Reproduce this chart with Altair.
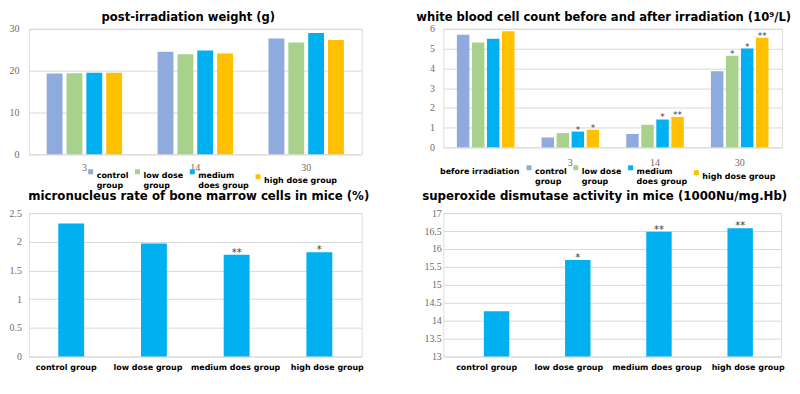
import altair as alt
import pandas as pd

# ---------------- data ----------------
groups = ["control group", "low dose group", "medium does group", "high dose group"]
group_colors = ["#8FAADC", "#A9D18E", "#00B0F0", "#FFC000"]

weight_days = ["3", "14", "30"]
weight_control = [19.3, 24.5, 27.7]
weight_low = [19.4, 23.9, 26.7]
weight_medium = [19.5, 24.8, 29.0]
weight_high = [19.5, 24.1, 27.3]

wbc_times = ["before irradiation", "3", "14", "30"]
wbc_control = [5.70, 0.50, 0.68, 3.85]
wbc_low = [5.31, 0.72, 1.14, 4.64]
wbc_medium = [5.50, 0.80, 1.41, 5.00]
wbc_high = [5.88, 0.89, 1.54, 5.55]
wbc_sig_control = ["", "", "", ""]
wbc_sig_low = ["", "", "", "*"]
wbc_sig_medium = ["", "*", "*", "*"]
wbc_sig_high = ["", "*", "**", "**"]

mn_values = [2.32, 1.97, 1.775, 1.82]
mn_sig = ["", "", "**", "*"]

sod_values = [14.26, 15.69, 16.48, 16.58]
sod_sig = ["", "*", "**", "**"]

# ---------------- tables ----------------
rows = []
for g, vals in zip(groups, [weight_control, weight_low, weight_medium, weight_high]):
    for d, v in zip(weight_days, vals):
        rows.append({"cat": d, "group": g, "value": v})
df_w = pd.DataFrame(rows)

rows = []
for g, vals, sig in zip(groups, [wbc_control, wbc_low, wbc_medium, wbc_high],
                        [wbc_sig_control, wbc_sig_low, wbc_sig_medium, wbc_sig_high]):
    for t, v, s in zip(wbc_times, vals, sig):
        rows.append({"cat": t, "group": g, "value": v, "sig": s})
df_wbc = pd.DataFrame(rows)

df_mn = pd.DataFrame({"cat": groups, "value": mn_values, "sig": mn_sig})
df_sod = pd.DataFrame({"cat": groups, "value": sod_values, "sig": sod_sig})

# ---------------- styles ----------------
SANS = "DejaVu Sans"
SERIF = "Liberation Serif, Times New Roman, serif"
GRID = "#D9D9D9"
NUM_COLOR = "#6b6b6b"
BAR_BLUE = "#00B0F0"
SIG_COLOR = "#404040"

legend_expr = ("datum.label == 'control group' ? ['control', 'group'] : "
               "datum.label == 'low dose group' ? ['low dose', 'group'] : "
               "datum.label == 'medium does group' ? ['medium', 'does group'] : datum.label")


def make_legend(x, y, colpad):
    return alt.Legend(orient="none", legendX=x, legendY=y, direction="horizontal", columns=4,
                      title=None, symbolType="square", symbolSize=25, symbolStrokeWidth=0,
                      labelFont=SANS, labelFontSize=8, labelFontWeight="bold", labelColor="#000000",
                      labelBaseline="top", labelOffset=2, columnPadding=colpad, padding=0,
                      labelExpr=legend_expr)


def y_axis(values, pad):
    return alt.Axis(values=values, format="~f", title=None, ticks=False, domain=False, labelFont=SERIF,
                    labelFontSize=10, labelColor=NUM_COLOR, labelPadding=pad, gridColor=GRID)


def title(text, dx, offset, size):
    return alt.TitleParams(text, font=SANS, fontSize=size, fontWeight="bold", color="#000000",
                           anchor="middle", dx=dx, offset=offset, frame="group")


def shifted_labels(shifts):
    conds = [{"test": f"datum.value == '{g}'", "value": s} for g, s in zip(groups, shifts)]
    return {"condition": conds, "value": 0}


color_enc = alt.Color("group:N", sort=groups, scale=alt.Scale(domain=groups, range=group_colors))

# ---------------- top left: weight ----------------
tl = alt.Chart(df_w).mark_bar().encode(
    x=alt.X("cat:N", sort=weight_days, scale=alt.Scale(paddingInner=0.32, paddingOuter=0.16),
            axis=alt.Axis(title=None, labelAngle=0, ticks=False, domain=False, labelFont=SERIF,
                          labelFontSize=10, labelColor=NUM_COLOR, labelPadding=8.5)),
    xOffset=alt.XOffset("group:N", sort=groups, scale=alt.Scale(paddingInner=0.2, paddingOuter=0)),
    y=alt.Y("value:Q", scale=alt.Scale(domain=[0, 30], nice=False), axis=y_axis([0, 10, 20, 30], 10)),
    color=color_enc.legend(make_legend(58, 139.5, 5)),
).properties(width=334, height=126, title=title("post-irradiation weight (g)", -7, 0, 11.6))

# ---------------- top right: white blood cells ----------------
before = "datum.value == 'before irradiation'"
tr_base = alt.Chart(df_wbc).encode(
    x=alt.X("cat:N", sort=wbc_times, scale=alt.Scale(paddingInner=0.32, paddingOuter=0.16),
            axis=alt.Axis(title=None, labelAngle=0, ticks=False, domain=False, labelPadding=10,
                          labelExpr="datum.value == 'before irradiation' ? ['', datum.label] : datum.label",
                          labelFont={"condition": {"test": before, "value": SANS}, "value": SERIF},
                          labelFontWeight={"condition": {"test": before, "value": "bold"}, "value": "normal"},
                          labelFontSize={"condition": {"test": before, "value": 8}, "value": 10},
                          labelColor={"condition": {"test": before, "value": "#000000"}, "value": NUM_COLOR},
                          labelOffset={"condition": {"test": before, "value": -6}, "value": 0})),
    xOffset=alt.XOffset("group:N", sort=groups, scale=alt.Scale(paddingInner=0.17, paddingOuter=0)),
    y=alt.Y("value:Q", scale=alt.Scale(domain=[0, 6], nice=False), axis=y_axis([0, 1, 2, 3, 4, 5, 6], 9)),
)
tr = alt.layer(
    tr_base.mark_bar().encode(color=color_enc.legend(make_legend(82, 135.5, 5))),
    tr_base.mark_text(baseline="alphabetic", dy=1, font=SANS, fontSize=9, color=SIG_COLOR).encode(text="sig:N"),
).properties(width=340, height=119,
             title=title("white blood cell count before and after irradiation (10\u2079/L)", -9, 0, 11.6))

# ---------------- bottom left: micronucleus ----------------
def cat_axis(shifts):
    return alt.Axis(title=None, labelAngle=0, ticks=False, domain=False, labelFont=SANS,
                    labelFontSize=8, labelFontWeight="bold", labelColor="#000000", labelPadding=7,
                    labelOffset=shifted_labels(shifts))


bl_base = alt.Chart(df_mn).encode(
    x=alt.X("cat:N", sort=groups,
            scale=alt.Scale(paddingInner=0.687, paddingOuter=0.355, align=0.5),
            axis=cat_axis([-5, -6, -1, 8])),
    y=alt.Y("value:Q", scale=alt.Scale(domain=[0, 2.5], nice=False),
            axis=y_axis([0, 0.5, 1, 1.5, 2, 2.5], 7.5)),
)
bl = alt.layer(
    bl_base.mark_bar(color=BAR_BLUE),
    bl_base.mark_text(baseline="alphabetic", dy=1, font=SANS, fontSize=10, color=SIG_COLOR).encode(text="sig:N"),
).properties(width=334, height=144,
             title=title("micronucleus rate of bone marrow cells in mice (%)", 3.5, 5, 11.8))

# ---------------- bottom right: SOD ----------------
br_base = alt.Chart(df_sod).encode(
    x=alt.X("cat:N", sort=groups, scale=alt.Scale(paddingInner=0.687, paddingOuter=0.423, align=0.59),
            axis=cat_axis([-10, -9, -2, 8])),
    y=alt.Y("value:Q", scale=alt.Scale(domain=[13, 17], nice=False, zero=False),
            axis=y_axis([13, 13.5, 14, 14.5, 15, 15.5, 16, 16.5, 17], 2)),
)
br = alt.layer(
    br_base.mark_bar(color=BAR_BLUE).encode(y2=alt.datum(13)),
    br_base.mark_text(baseline="alphabetic", dy=1, font=SANS, fontSize=10, color=SIG_COLOR).encode(text="sig:N"),
).properties(width=339, height=144,
             title=title("superoxide dismutase activity in mice (1000Nu/mg.Hb)", -7.5, 5, 11.8))

chart = alt.concat(
    tl, tr, bl, br, columns=2, spacing={"row": 59, "column": 82}, bounds="flush",
    align={"row": "each", "column": "none"},
).resolve_scale(
    x="independent", y="independent", color="independent", xOffset="independent"
).resolve_legend(color="independent").properties(
    padding={"top": 2.2, "left": 0, "right": 0, "bottom": 0}
).configure_view(strokeWidth=0).configure(background="#ffffff")

chart.save("out.html", embed_options={"renderer": "svg", "actions": False})
